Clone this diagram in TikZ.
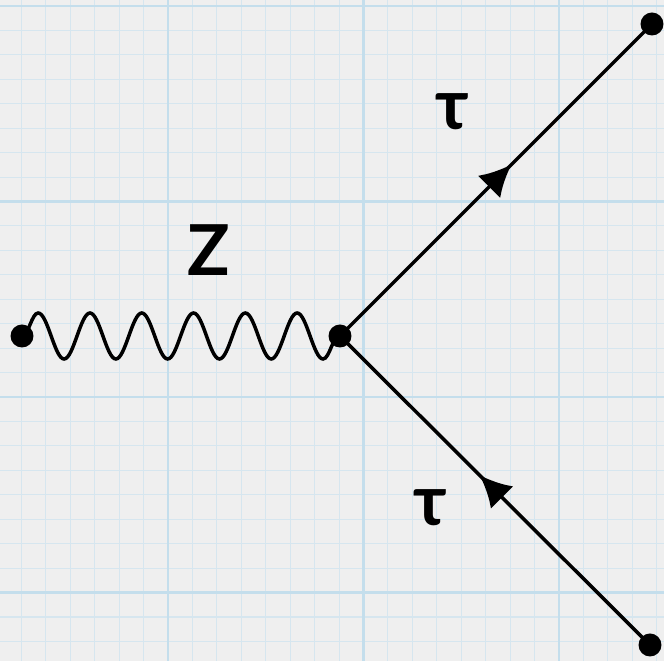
\documentclass[tikz,border=0pt]{standalone}
\usepackage{fontspec}
\setmainfont{Lato}
\usetikzlibrary{decorations.pathmorphing, decorations.markings, arrows.meta}

\begin{document}
\begin{tikzpicture}[x=0.02cm, y=-0.02cm,
    dot/.style={circle, fill=black, inner sep=0pt, minimum size=0.46cm},
    fermion/.style={line width=2pt, postaction={decorate},
        decoration={markings, mark=at position 0.55 with {\arrow{Latex[length=18pt, width=18pt]}}}},
    boson/.style={line width=2pt, decorate,
        decoration={snake, segment length=1.036cm, amplitude=0.46cm}},
    particle/.style={font=\bfseries\fontsize{40}{48}\selectfont}]

    % Define grid spacing
    \def\cellSize{24.44}

    \definecolor{paperColour}{HTML}{EFEFEF}
    \definecolor{minorColour}{HTML}{D6E6EF}
    \definecolor{majorColour}{HTML}{C4DEEC}

    % Paper
    \useasboundingbox (0,0) rectangle (664,661);
    \clip (0,0) rectangle (664,661);
    \fill[paperColour] (0,0) rectangle (664,661);

    % Draw grid
    \foreach \i in {-7,...,21}
        \draw[minorColour, line width=0.6pt] ({168+\cellSize*\i},0) -- ({168+\cellSize*\i},661);
    \foreach \j in {-1,...,27}
        \draw[minorColour, line width=0.6pt] (0,{6+\cellSize*\j}) -- (664,{6+\cellSize*\j});
    \foreach \i in {-8,0,8,16}
        \draw[majorColour, line width=1.2pt] ({168+\cellSize*\i},0) -- ({168+\cellSize*\i},661);
    \foreach \j in {0,8,16,24}
        \draw[majorColour, line width=1.2pt] (0,{6+\cellSize*\j}) -- (664,{6+\cellSize*\j});

    % Vertices
    \node[dot] (zin) at (22,336) {};
    \node[dot] (vertex) at (340,336) {};
    \node[dot] (tauout) at (652,24) {};
    \node[dot] (tauin) at (650,645) {};

    % Propagators
    \draw[boson] (zin.center) -- (vertex.center);
    \draw[fermion] (vertex.center) -- (tauout.center);
    \draw[fermion] (tauin.center) -- (vertex.center);

    % Labels
    \node[particle] (zlabel) at (209,250) {Z};
    \node[particle] (tauup) at (452,112) {τ};
    \node[particle] (taudown) at (430,508) {τ};

\end{tikzpicture}
\end{document}
